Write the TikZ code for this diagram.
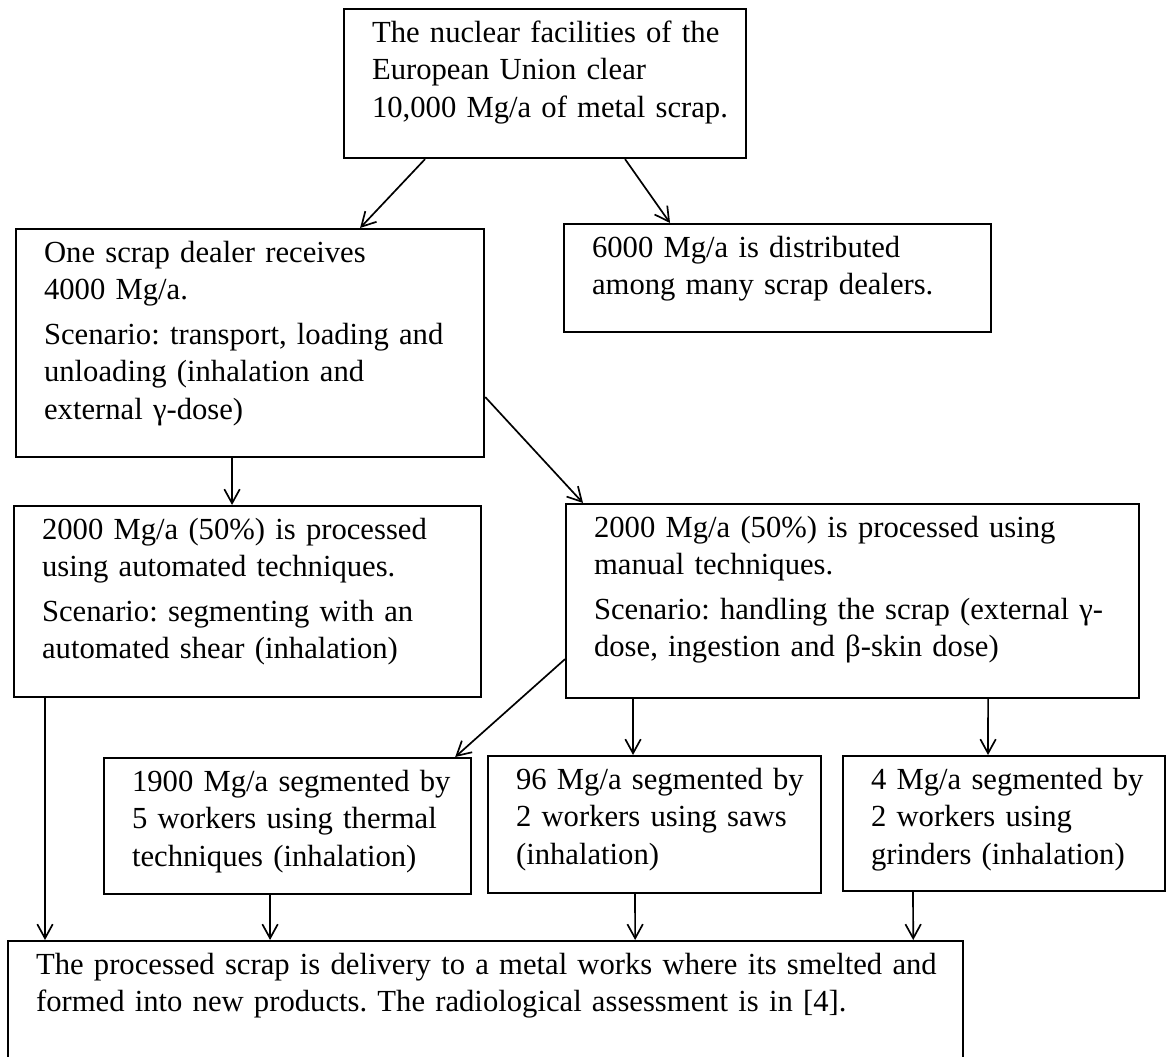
\documentclass[tikz,border=0pt]{standalone}
\usepackage{fontspec}
\setmainfont{Liberation Serif}
\usepackage{tikz}
\usetikzlibrary{arrows.meta}
\usetikzlibrary{positioning}

\begin{document}
\begin{tikzpicture}[x=0.025cm, y=-0.025cm,
    flowbox/.style={draw, line width=1.5pt, anchor=north west, inner sep=0pt,
        align=left, text height=0.825cm,
        font=\fontsize{21.8pt}{26.7pt}\selectfont\frenchspacing,
        execute at begin node={\leftskip=0.7cm\relax}},
    link/.style={-{Straight Barb[length=10pt,width=11pt]}, line width=1.2pt}]
            \useasboundingbox (0,0) rectangle (1166,1057);
            \clip (0,0) rectangle (1166,1057);

            % Source
            \node[flowbox, text width=10.05cm, text depth=2.9cm] (eu) at (343,8)
                {The nuclear facilities of the\\European Union clear\\10,000 Mg/a of metal scrap.};

            % Dealers
            \node[flowbox, text width=11.7cm, text depth=4.875cm] (dealer) at (15,228)
                {One scrap dealer receives\\4000 Mg/a.\\[0.175cm]Scenario: transport, loading and\\unloading (inhalation and\\external γ-dose)};
            \node[flowbox, text width=10.675cm, text depth=1.875cm] (many) at (563,223)
                {6000 Mg/a is distributed\\among many scrap dealers.};

            % Processing
            \node[flowbox, text width=11.675cm, text depth=3.95cm] (auto) at (13,505)
                {2000 Mg/a (50\%) is processed\\using automated techniques.\\[0.175cm]Scenario: segmenting with an\\automated shear (inhalation)};
            \node[flowbox, text width=14.325cm, text depth=4.025cm] (manual) at (565,503)
                {2000 Mg/a (50\%) is processed using\\manual techniques.\\[0.175cm]Scenario: handling the scrap (external γ-\\dose, ingestion and β-skin dose)};

            % Segmenting
            \node[flowbox, text width=9.175cm, text depth=2.575cm] (thermal) at (103,757)
                {1900 Mg/a segmented by\\5 workers using thermal\\techniques (inhalation)};
            \node[flowbox, text width=8.325cm, text depth=2.6cm] (saws) at (487,755)
                {96 Mg/a segmented by\\2 workers using saws\\(inhalation)};
            \node[flowbox, text width=8.05cm, text depth=2.55cm] (grind) at (842,755)
                {4 Mg/a segmented by\\2 workers using\\grinders (inhalation)};

            % Metal works
            \node[flowbox, text width=23.875cm, text depth=2.275cm] (works) at (7,940)
                {The processed scrap is delivery to a metal works where its smelted and\\formed into new products. The radiological assessment is in [4].};

            % Arrows
            \draw[link] ([xshift=2.05cm]eu.south west) -- ([xshift=8.625cm]dealer.north west);
            \draw[link] ([xshift=7.05cm]eu.south west) -- ([xshift=2.675cm]many.north west);
            \draw[link] ([xshift=5.425cm]dealer.south west) -- ([xshift=5.475cm]auto.north west);
            \draw[link] ([yshift=-4.225cm]dealer.north east) -- ([xshift=0.45cm]manual.north west);
            \draw[link] ([xshift=0.8cm]auto.south west) -- ([xshift=0.95cm]works.north west);
            \draw[link] ([yshift=1cm]manual.south west) -- ([xshift=-0.425cm]thermal.north east);
            \draw[link] ([xshift=1.7cm]manual.south west) -- ([xshift=3.65cm]saws.north west);
            \draw[link] ([xshift=10.575cm]manual.south west) -- ([xshift=3.65cm]grind.north west);
            \draw[link] ([xshift=4.175cm]thermal.south west) -- ([xshift=6.575cm]works.north west);
            \draw[link] ([xshift=3.7cm]saws.south west) -- ([xshift=15.7cm]works.north west);
            \draw[link] ([xshift=1.775cm]grind.south west) -- ([xshift=22.65cm]works.north west);
\end{tikzpicture}
\end{document}
